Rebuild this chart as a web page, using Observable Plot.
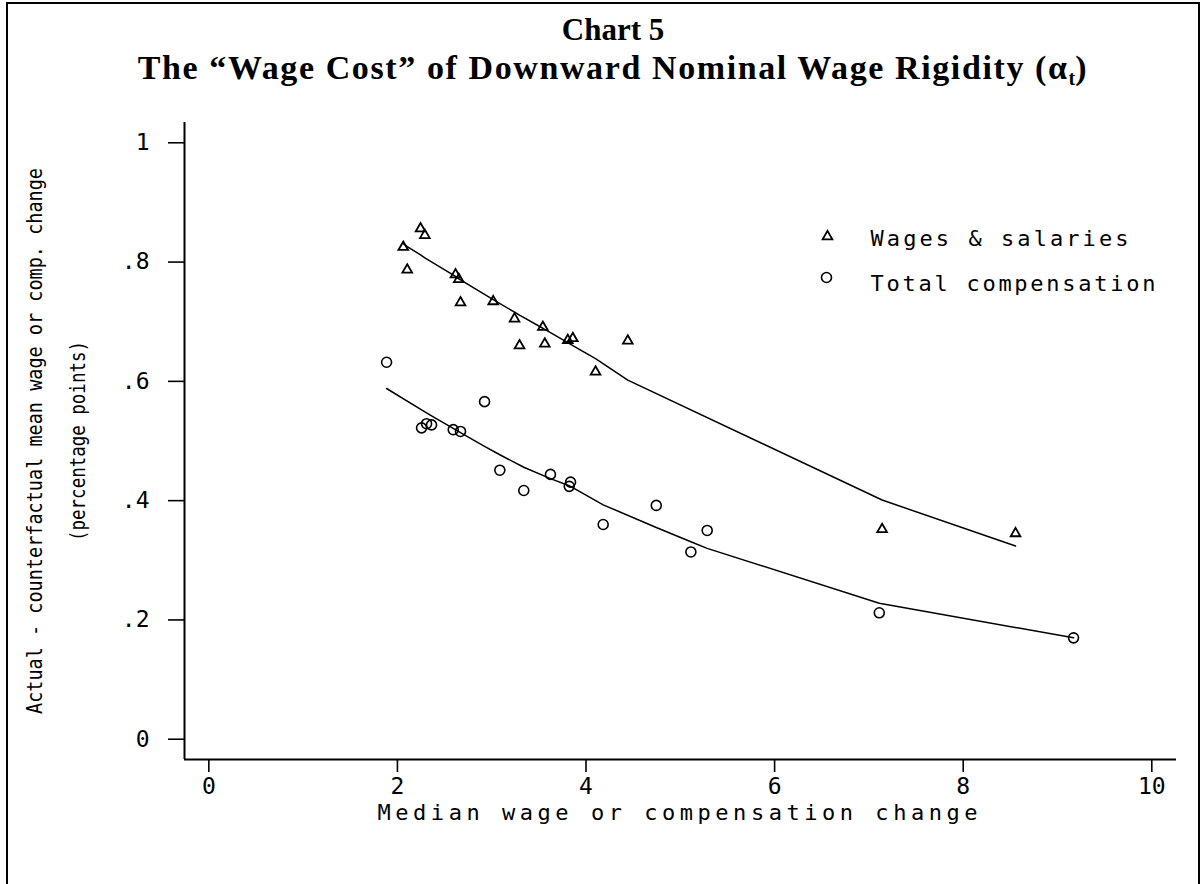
<!DOCTYPE html>
<html>
<head>
<meta charset="utf-8">
<script src="https://cdn.jsdelivr.net/npm/d3@7"></script>
<script src="https://cdn.jsdelivr.net/npm/@observablehq/plot@0.6"></script>
<style>
  html, body { margin: 0; padding: 0; background: #fff; }
  #wrap { position: relative; width: 1202px; height: 884px; overflow: hidden; background: #fff; }
  #chart { position: absolute; left: 0; top: 0; }
  #frame { position: absolute; left: 6px; top: 2px; width: 1194px; height: 900px; border: 2px solid #000; box-sizing: border-box; pointer-events: none; z-index: 3; }
  .title { position: absolute; left: 0; width: 1226px; text-align: center; font-family: "Liberation Serif", "Times New Roman", serif; font-weight: bold; color: #000; z-index: 2; white-space: nowrap; }
  #t1 { top: 11px; font-size: 31px; line-height: 38px; }
  #t2 { top: 48px; font-size: 34px; line-height: 40px; letter-spacing: 1.6px; }
  #t2 sub { font-size: 20px; vertical-align: -6px; line-height: 0; letter-spacing: 0; }
</style>
</head>
<body>
<div id="wrap">
  <div id="t1" class="title">Chart 5</div>
  <div id="t2" class="title">The “Wage Cost” of Downward Nominal Wage Rigidity (α<sub>t</sub>)</div>
  <div id="chart"></div>
  <div id="frame"></div>
</div>
<script>
// ---- Data ----
const wagesX = [2.245, 2.291, 2.062, 2.104, 2.616, 2.651, 2.669, 3.016, 3.242, 3.295, 3.542, 3.563, 3.807, 3.860, 4.443, 4.101, 7.14, 8.555];
const wagesY = [0.856, 0.845, 0.825, 0.787, 0.779, 0.771, 0.732, 0.734, 0.705, 0.660, 0.691, 0.663, 0.669, 0.672, 0.668, 0.616, 0.352, 0.345];

const compX = [1.885, 2.256, 2.309, 2.362, 2.592, 2.669, 2.924, 3.086, 3.340, 3.623, 3.836, 3.822, 4.745, 4.182, 5.285, 5.112, 7.11, 9.17];
const compY = [0.632, 0.522, 0.529, 0.527, 0.519, 0.516, 0.566, 0.451, 0.417, 0.444, 0.431, 0.424, 0.392, 0.360, 0.350, 0.314, 0.212, 0.170];

const wagesFitX = [2.062, 2.104, 2.245, 2.291, 2.616, 2.651, 2.669, 3.016, 3.242, 3.295, 3.542, 3.563, 3.807, 3.860, 4.101, 4.443, 7.14, 8.555];
const wagesFitY = [0.831, 0.826, 0.812, 0.807, 0.776, 0.772, 0.770, 0.737, 0.716, 0.711, 0.689, 0.687, 0.665, 0.660, 0.638, 0.602, 0.401, 0.324];

const compFitX = [1.885, 2.256, 2.309, 2.362, 2.592, 2.669, 2.924, 3.086, 3.340, 3.623, 3.822, 3.836, 4.182, 4.745, 5.112, 5.285, 7.11, 9.17];
const compFitY = [0.588, 0.552, 0.547, 0.542, 0.521, 0.514, 0.491, 0.477, 0.456, 0.437, 0.425, 0.424, 0.393, 0.355, 0.331, 0.320, 0.228, 0.170];

const xTicks = [0, 2, 4, 6, 8, 10];
const yTicks = [0, 0.2, 0.4, 0.6, 0.8, 1];
const yTickLabels = ["0", ".2", ".4", ".6", ".8", "1"];
const legendLabels = ["Wages & salaries", "Total compensation"];
const xTitle = "Median wage or compensation change";
const yTitleLines = ["Actual - counterfactual mean wage or comp. change", "(percentage points)"];

// ---- Tables built from the arrays ----
const wages = wagesX.map((x, i) => ({x, y: wagesY[i]}));
const comp = compX.map((x, i) => ({x, y: compY[i]}));
const wagesFit = wagesFitX.map((x, i) => ({x, y: wagesFitY[i]}));
const compFit = compFitX.map((x, i) => ({x, y: compFitY[i]}));

const xDomain = [-0.258, 10.262];
const yDomain = [-0.034, 1.034];
const mono = "DejaVu Sans Mono";

const plot = Plot.plot({
  width: 1202,
  height: 884,
  marginLeft: 184,
  marginRight: 26,
  marginTop: 122,
  marginBottom: 125,
  style: {fontFamily: mono, fontSize: "23px", color: "#000", background: "transparent", overflow: "visible"},
  x: {domain: xDomain},
  y: {domain: yDomain},
  marks: [
    Plot.axisX({ticks: xTicks, tickSize: 13, tickPadding: 5, tickFormat: d => String(d), strokeWidth: 1.6, label: null, fontSize: 23, fontFamily: mono}),
    Plot.axisY({ticks: yTicks, tickSize: 16, tickPadding: 19, tickFormat: d => yTickLabels[yTicks.indexOf(d)], strokeWidth: 1.6, label: null, fontSize: 23, fontFamily: mono}),
    Plot.ruleX([xDomain[0]], {stroke: "#000", strokeWidth: 2}),
    Plot.ruleY([yDomain[0]], {stroke: "#000", strokeWidth: 2}),
    Plot.line(wagesFit, {x: "x", y: "y", stroke: "#000", strokeWidth: 1.5}),
    Plot.line(compFit, {x: "x", y: "y", stroke: "#000", strokeWidth: 1.5}),
    Plot.dot(wages, {x: "x", y: "y", symbol: "triangle", r: 3.6, stroke: "#000", strokeWidth: 1.8, fill: "none"}),
    Plot.dot(comp, {x: "x", y: "y", symbol: "circle", r: 5, stroke: "#000", strokeWidth: 1.6, fill: "none"}),
    // legend
    Plot.dot([legendLabels[0]], {frameAnchor: "top-left", dx: 643, dy: 114, symbol: "triangle", r: 3.6, stroke: "#000", strokeWidth: 1.8, fill: "none"}),
    Plot.dot([legendLabels[1]], {frameAnchor: "top-left", dx: 642, dy: 155, symbol: "circle", r: 5, stroke: "#000", strokeWidth: 1.6, fill: "none"}),
    Plot.text([legendLabels[0]], {frameAnchor: "top-left", dx: 686, dy: 108, text: d => d, textAnchor: "start", fontSize: 22, fontFamily: mono, fill: "#000"}),
    Plot.text([legendLabels[1]], {frameAnchor: "top-left", dx: 686, dy: 153, text: d => d, textAnchor: "start", fontSize: 22, fontFamily: mono, fill: "#000"}),
    // axis titles
    Plot.text([xTitle], {frameAnchor: "bottom", dx: -3, dy: 60, text: d => d, fontSize: 22, fontFamily: mono, fill: "#000"}),
    Plot.text([yTitleLines[0]], {frameAnchor: "left", dx: -150, dy: 0, rotate: -90, text: d => d, fontSize: 22, fontFamily: mono, fill: "#000"}),
    Plot.text([yTitleLines[1]], {frameAnchor: "left", dx: -107, dy: 0, rotate: -90, text: d => d, fontSize: 22, fontFamily: mono, fill: "#000"})
  ]
});

document.getElementById("chart").appendChild(plot);

// Fit text widths to the reference layout (start-anchored, centred by hand)
const svg = d3.select(plot);
const fit = (label, len, adjust, centred) => {
  const sel = svg.selectAll("text")
    .filter(function() { return this.textContent === label; })
    .attr("textLength", len).attr("lengthAdjust", adjust);
  if (centred) sel.attr("text-anchor", "start").attr("x", -len / 2);
};
fit(legendLabels[0], 258, "spacing", false);
fit(legendLabels[1], 285, "spacing", false);
fit(xTitle, 600, "spacing", false);
fit(yTitleLines[0], 546, "spacingAndGlyphs", true);
fit(yTitleLines[1], 200, "spacingAndGlyphs", true);
</script>
</body>
</html>
